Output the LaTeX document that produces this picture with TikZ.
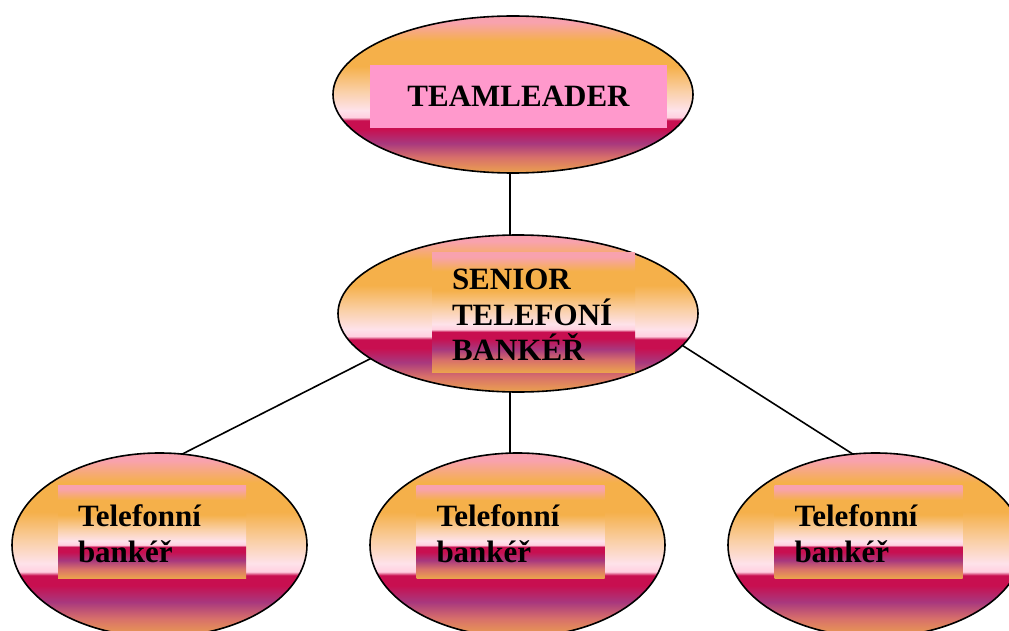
\documentclass[tikz,border=0pt]{standalone}
\usepackage{fontspec}
\setmainfont{Liberation Serif}
\usetikzlibrary{shapes.geometric}
\definecolor{gpink}{RGB}{248,162,174}
\definecolor{gorange}{RGB}{245,176,74}
\definecolor{gpeach}{RGB}{250,208,168}
\definecolor{glight}{RGB}{254,226,234}
\definecolor{gwhite}{RGB}{255,208,224}
\definecolor{gcrimson}{RGB}{200,15,80}
\definecolor{gpurple}{RGB}{168,56,126}
\definecolor{gsalmon}{RGB}{216,112,106}
\definecolor{gbottom}{RGB}{235,162,78}
\definecolor{rectpink}{RGB}{255,153,204}
\pgfdeclareverticalshading{ovalgrad}{100bp}{color(0bp)=(gbottom); color(25bp)=(gbottom); color(30bp)=(gsalmon); color(34.5bp)=(gpurple); color(39bp)=(gcrimson); color(41.75bp)=(gcrimson); color(42.75bp)=(gwhite); color(45bp)=(glight); color(51bp)=(gpeach); color(59bp)=(gorange); color(67bp)=(gorange); color(73bp)=(gpink); color(75bp)=(gpink); color(100bp)=(gpink)}
\tikzset{
  oval/.style={ellipse, draw=black, line width=1.6pt, shade, shading=ovalgrad, inner sep=0pt, outer sep=0pt},
  bigoval/.style={oval, minimum width=360pt, minimum height=157pt},
  smalloval/.style={oval, minimum width=295pt, minimum height=184pt},
  txt/.style={font=\bfseries\fontsize{31}{35.5}\selectfont, text=black},
  toptext/.style={txt, fill=rectpink, minimum width=297pt, minimum height=63pt, inner sep=0pt},
  midtext/.style={txt, shade, shading=ovalgrad, minimum height=120pt, text width=163pt, align=left, inner xsep=20pt, inner ysep=0pt},
  lowtext/.style={txt, shade, shading=ovalgrad, minimum height=93pt, text width=148pt, align=left, inner xsep=20pt, inner ysep=0pt},
  conn/.style={draw=black, line width=1.6pt}
}
\begin{document}
\begin{tikzpicture}[x=1pt, y=-1pt]
\useasboundingbox (0,0) rectangle (1009,631);
\clip (0,0) rectangle (1009,631);
\node[bigoval] (top) at (513,94.5) {};
\node[bigoval] (mid) at (518,313.5) {};
\node[smalloval] (b1) at (159.5,545) {};
\node[smalloval] (b2) at (517.5,545) {};
\node[smalloval] (b3) at (875.5,545) {};
\node[toptext] (ttop) at (518.5,96.5) {TEAMLEADER};
\node[midtext] (tmid) at (533.5,312) {\rule{0pt}{27pt}SENIOR\\TELEFONÍ\\BANKÉŘ};
\node[lowtext] (tb1) at (152,531.5) {\rule{0pt}{26pt}Telefonní\\bankéř};
\node[lowtext] (tb2) at (510.5,531.5) {\rule{0pt}{26pt}Telefonní\\bankéř};
\node[lowtext] (tb3) at (868.5,531.5) {\rule{0pt}{26pt}Telefonní\\bankéř};
\draw[conn] (top.south -| 510,0) -- (mid.north -| 510,0);
\draw[conn] (mid.south -| 510,0) -- (b2.north -| 510,0);
\draw[conn] (mid.197.5) -- (b1.76);
\draw[conn] (mid.349.2) -- (b3.104);
\end{tikzpicture}
\end{document}
